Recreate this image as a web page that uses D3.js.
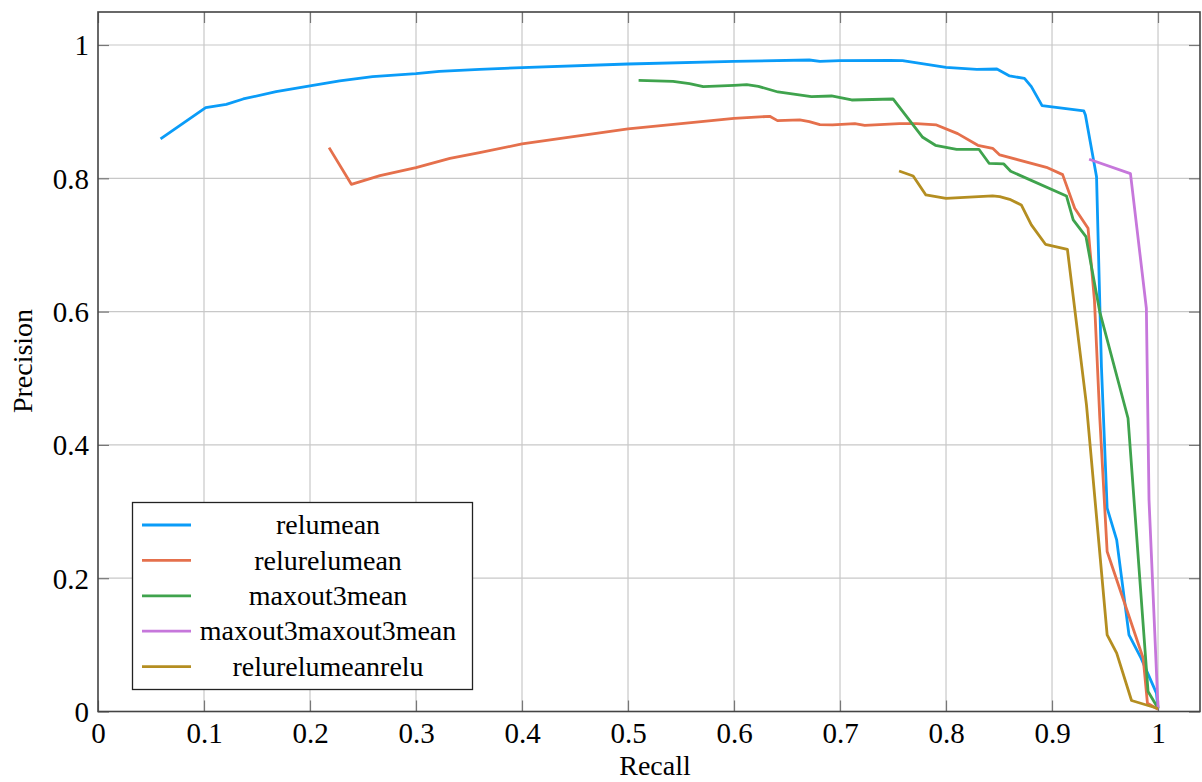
<!DOCTYPE html>
<html>
<head>
<meta charset="utf-8">
<script src="https://cdn.jsdelivr.net/npm/d3@7"></script>
<style>
	body { margin: 0; background: #fff; }
	text { font-family: "Liberation Serif", "Times New Roman", serif; fill: #000; }
</style>
</head>
<body>
<svg width="1202" height="782"></svg>
<script>
// series names and colours
var names = ["relumean", "relurelumean", "maxout3mean", "maxout3maxout3mean", "relurelumeanrelu"];
var colors = ["#0a9cf8", "#e5704c", "#3fa34d", "#c677db", "#b48e21"];

// [recall, precision]
var relumean = [
	[0.059,0.859],[0.1016,0.906],[0.121,0.911],[0.137,0.919],[0.168,0.930],[0.2,0.9385],
	[0.228,0.946],[0.259,0.9525],[0.3,0.957],[0.322,0.9605],[0.36,0.9635],[0.4,0.966],
	[0.5,0.9715],[0.6,0.9755],[0.671,0.9775],[0.681,0.9755],[0.7,0.9765],[0.747,0.977],
	[0.759,0.9765],[0.8,0.9665],[0.829,0.9635],[0.848,0.964],[0.86,0.9535],[0.874,0.95],
	[0.8805,0.9375],[0.8906,0.909],[0.930,0.901],[0.9315,0.895],[0.942,0.8025],
	[0.9466,0.5175],[0.952,0.305],[0.961,0.2575],[0.9726,0.115],[0.984,0.080],
	[0.9985,0.0275],[1.0,0.0045]
];
var relurelumean = [
	[0.218,0.846],[0.239,0.791],[0.266,0.804],[0.3,0.816],[0.332,0.830],[0.36,0.8385],
	[0.4,0.8515],[0.5,0.874],[0.6,0.890],[0.6337,0.893],[0.641,0.8865],[0.662,0.8875],
	[0.671,0.885],[0.681,0.8805],[0.693,0.880],[0.714,0.882],[0.7233,0.8795],[0.756,0.882],
	[0.772,0.882],[0.791,0.880],[0.811,0.867],[0.830,0.8495],[0.844,0.845],[0.8507,0.835],
	[0.8947,0.8165],[0.910,0.8055],[0.9214,0.755],[0.934,0.725],[0.940,0.6175],
	[0.945,0.4425],[0.952,0.24],[0.986,0.080],[0.990,0.0125],[1.0,0.0035]
];
var maxout3mean = [
	[0.510,0.947],[0.5425,0.9455],[0.558,0.942],[0.571,0.9375],[0.6,0.9395],[0.612,0.9405],
	[0.623,0.938],[0.6415,0.9295],[0.673,0.9225],[0.692,0.9235],[0.711,0.9175],[0.750,0.919],
	[0.778,0.8615],[0.790,0.8495],[0.810,0.8435],[0.831,0.8435],[0.8406,0.8225],[0.8545,0.8215],
	[0.861,0.8105],[0.9136,0.7735],[0.920,0.7375],[0.932,0.7125],[0.945,0.600],[0.9717,0.440],
	[0.9906,0.030],[1.0,0.005]
];
var maxout3maxout3mean = [
	[0.935,0.8285],[0.974,0.807],[0.989,0.605],[0.9915,0.3175],[1.0,0.005]
];
var relurelumeanrelu = [
	[0.7557,0.811],[0.769,0.8035],[0.781,0.775],[0.800,0.770],[0.844,0.7735],[0.8507,0.7725],
	[0.860,0.7685],[0.871,0.760],[0.8805,0.730],[0.8938,0.701],[0.9145,0.6935],[0.920,0.6225],
	[0.9325,0.460],[0.952,0.115],[0.961,0.0875],[0.975,0.0165],[1.0,0.0045]
];
var series = [relumean, relurelumean, maxout3mean, maxout3maxout3mean, relurelumeanrelu];

var xTicks = [0,0.1,0.2,0.3,0.4,0.5,0.6,0.7,0.8,0.9,1];
var yTicks = [0,0.2,0.4,0.6,0.8,1];

var pL = 98, pR = 1200, pT = 12, pB = 711.5;
var svg = d3.select("svg");

var x = d3.scaleLinear().domain([0, 1.0396]).range([pL, pR]);
var y = d3.scaleLinear().domain([0, 1.0495]).range([pB, pT]);

var fmt = function(d){ return String(d); };

// grid
svg.append("g").selectAll("line").data(xTicks.slice(1)).enter().append("line")
	.attr("x1", x).attr("x2", x).attr("y1", pT).attr("y2", pB)
	.attr("stroke", "#c8c8c8").attr("stroke-width", 1.2);
svg.append("g").selectAll("line").data(yTicks.slice(1)).enter().append("line")
	.attr("x1", pL).attr("x2", pR).attr("y1", y).attr("y2", y)
	.attr("stroke", "#c8c8c8").attr("stroke-width", 1.2);

// axes with inward ticks
var xAxis = svg.append("g").attr("transform", "translate(0," + pB + ")")
	.call(d3.axisBottom(x).tickValues(xTicks).tickFormat(fmt).tickSizeInner(-11).tickSizeOuter(0));
var yAxis = svg.append("g").attr("transform", "translate(" + pL + ",0)")
	.call(d3.axisLeft(y).tickValues(yTicks).tickFormat(fmt).tickSizeInner(-11).tickSizeOuter(0));
svg.append("g").attr("transform", "translate(0," + pT + ")")
	.call(d3.axisTop(x).tickValues(xTicks).tickFormat("").tickSizeInner(-11).tickSizeOuter(0));
svg.append("g").attr("transform", "translate(" + pR + ",0)")
	.call(d3.axisRight(y).tickValues(yTicks).tickFormat("").tickSizeInner(-11).tickSizeOuter(0));

svg.selectAll(".domain").remove();
svg.selectAll(".tick line").attr("stroke", "#777").attr("stroke-width", 1.2);
svg.selectAll(".tick text").style("font-size", "29px").style("font-family", "Liberation Serif");
xAxis.selectAll(".tick text").attr("y", 8).attr("dy", "0.8em");
yAxis.selectAll(".tick text").attr("x", -9).attr("dy", "0.34em");

// curves
var line = d3.line().x(function(d){ return x(d[0]); }).y(function(d){ return y(d[1]); });
svg.append("g").selectAll("path").data(series).enter().append("path")
	.attr("d", line)
	.attr("fill", "none")
	.attr("stroke", function(d, i){ return colors[i]; })
	.attr("stroke-width", 2.8)
	.attr("stroke-linejoin", "round");

// frame
svg.append("rect").attr("x", pL).attr("y", pT)
	.attr("width", pR - pL).attr("height", pB - pT)
	.attr("fill", "none").attr("stroke", "#444").attr("stroke-width", 1.6);

// axis labels
svg.append("text").attr("x", 655).attr("y", 775)
	.attr("text-anchor", "middle").style("font-size", "28px").text("Recall");
svg.append("text").attr("transform", "translate(32,361) rotate(-90)")
	.attr("text-anchor", "middle").style("font-size", "28px").text("Precision");

// legend
var lg = svg.append("g");
lg.append("rect").attr("x", 132.5).attr("y", 502.5).attr("width", 340).attr("height", 187)
	.attr("fill", "#fff").attr("stroke", "#222").attr("stroke-width", 1.3);
var items = lg.selectAll("g.item").data(names).enter().append("g")
	.attr("transform", function(d, i){ return "translate(0," + (525 + i * 35.4) + ")"; });
items.append("line").attr("x1", 142).attr("x2", 191).attr("y1", 0).attr("y2", 0)
	.attr("stroke", function(d, i){ return colors[i]; }).attr("stroke-width", 2.8);
items.append("text").attr("x", 328).attr("y", 0).attr("dy", "0.33em")
	.attr("text-anchor", "middle").style("font-size", "28px").text(function(d){ return d; });
</script>
</body>
</html>
